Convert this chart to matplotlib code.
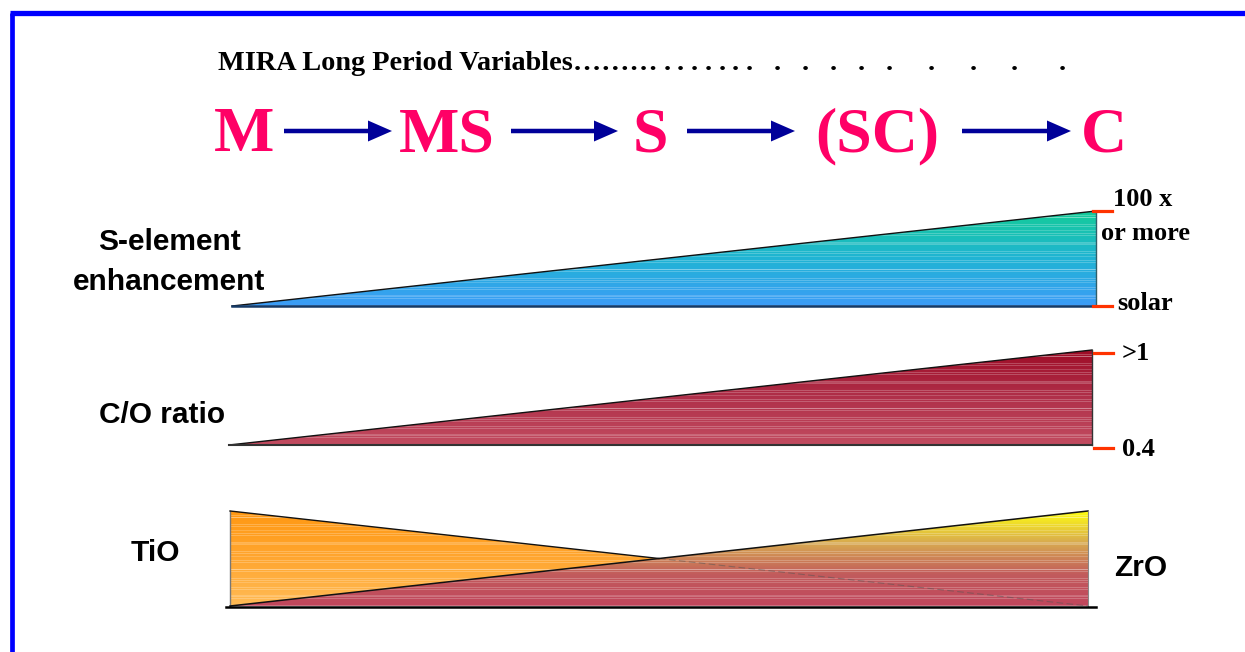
import numpy as np
import matplotlib
matplotlib.use('Agg')
import matplotlib.pyplot as plt
from matplotlib.colors import to_rgb
from matplotlib.patches import Polygon

# spectral sequence of the Mira long period variables
stages = ['M', 'MS', 'S', '(SC)', 'C']

# evolution along the sequence, start (M) to end (C)
progress = [0.0, 1.0]

# s-element enhancement, relative to solar
s_enhancement = [1.0, 100.0]
s_tick_values = [1.0, 100.0]
s_tick_labels = ['solar', '100 x']
s_tick_note = 'or more'

# C/O ratio
co_ratio = [0.4, 1.0]
co_tick_values = [0.4, 1.0]
co_tick_labels = ['0.4', '>1']

# relative band strengths
tio_strength = [1.0, 0.0]
zro_strength = [0.0, 1.0]

SERIF = 'Liberation Serif'
SANS = 'Liberation Sans'
PINK = '#ff0066'
NAVY = '#000099'
TICK_RED = '#ff3300'


# x0, x1, baseline, top (pixel coords of each panel)
S_BOX = (232, 1096, 306, 211)
CO_BOX = (229, 1092, 445, 350)
BAND_BOX = (230, 1088, 606, 511)


def to_px(box, fx, fy):
    x0, x1, base, top = box
    fx = np.asarray(fx, dtype=float)
    fy = np.asarray(fy, dtype=float)
    return x0 + fx * (x1 - x0), base - fy * (base - top)


def gradient_fill(ax, verts, box, stops, zorder):
    x0, x1, base, top = box
    n = int(base - top) * 2
    t = np.linspace(0, 1, n)
    pos = np.linspace(0, 1, len(stops))
    rgb = np.array([to_rgb(c) for c in stops])
    img = np.stack([np.interp(t, pos, rgb[:, k]) for k in range(3)], axis=-1)
    # pale horizontal streaks, like the old clip-art fill
    rows = np.arange(n)
    streak = ((rows * 7) % 9 < 2) * 0.22 + ((rows * 5) % 13 == 0) * 0.18
    img = img + (1 - img) * streak[:, None]
    im = ax.imshow(img[:, None, :], extent=(x0, x1, base, top), aspect='auto',
                   origin='upper', interpolation='nearest', zorder=zorder)
    clip = Polygon(verts, closed=True, facecolor='none', edgecolor='none',
                   transform=ax.transData)
    ax.add_patch(clip)
    im.set_clip_path(clip)


def ramp(box, values, vmin, vmax, log=False):
    # triangle between the baseline and the value line
    if log:
        fy = (np.log10(values) - np.log10(vmin)) / (np.log10(vmax) - np.log10(vmin))
    else:
        fy = (np.asarray(values) - vmin) / (vmax - vmin)
    xs, ys = to_px(box, progress, fy)
    _, _, base, _ = box
    verts = [(xs[0], base), (xs[0], ys[0]), (xs[1], ys[1]), (xs[1], base)]
    return xs, ys, verts


fig = plt.figure(figsize=(12.45, 6.52), dpi=100)
ax = fig.add_axes([0, 0, 1, 1])

# blue frame (left and top only)
ax.plot([12, 12], [12.5, 652], color='#0000ff', lw=3.4, solid_capstyle='butt')
ax.plot([10, 1245], [12.5, 12.5], color='#0000ff', lw=3.8, solid_capstyle='butt')

# header
ax.text(218, 70, 'MIRA Long Period Variables\u2026\u2026\u2026', fontsize=20.3,
        fontweight='bold', family=SERIF, va='baseline', ha='left')
for dx in [667, 680, 694, 708, 722, 735, 749, 777, 805, 833, 861, 889, 931, 973, 1014, 1062]:
    ax.text(dx, 70, '.', fontsize=20.3, fontweight='bold', family=SERIF,
            va='baseline', ha='center')

stage_x = [244, 447, 650, 877, 1104]
arrow_x = [(284, 392), (511, 618), (687, 795), (962, 1071)]
for name, sx in zip(stages, stage_x):
    ax.text(sx, 151, name, fontsize=46, fontweight='bold', family=SERIF,
            color=PINK, ha='center', va='baseline')
for a, b in arrow_x:
    ax.arrow(a, 131, b - a, 0, width=4.5, head_width=21, head_length=24,
             length_includes_head=True, color=NAVY, lw=0)

# S-element panel
xs, ys, verts = ramp(S_BOX, s_enhancement, s_tick_values[0], s_tick_values[1], log=True)
gradient_fill(ax, verts, S_BOX, ['#14cc98', '#20b4d4', '#3c9cf8'], 2)
ax.plot([xs[0], xs[1]], [ys[0], ys[1]], color='#111111', lw=1.0, zorder=3)
ax.plot([xs[1], xs[1]], [ys[1], S_BOX[2]], color='#2f5f6a', lw=1.0, zorder=3)
ax.plot([xs[0], xs[1]], [S_BOX[2], S_BOX[2]], color='#163a66', lw=1.8, zorder=3)
for v, lab in zip(s_tick_values, s_tick_labels):
    fy = np.log10(v) / np.log10(s_tick_values[-1])
    _, ty = to_px(S_BOX, 1, fy)
    ax.plot([1093, 1112], [ty, ty], color=TICK_RED, lw=2.3, zorder=3)
    if lab == 'solar':
        ax.text(1117, ty - 2, lab, fontsize=19, fontweight='bold', family=SERIF,
                ha='left', va='center')
    else:
        ax.text(1113, ty - 12, lab, fontsize=19, fontweight='bold', family=SERIF,
                ha='left', va='center')
ax.text(1101, 234, s_tick_note, fontsize=19, fontweight='bold', family=SERIF,
        ha='left', va='center')
ax.text(169, 262, 'S-element\nenhancement', fontsize=21.5, fontweight='bold',
        family=SANS, ha='center', va='center', linespacing=1.5)

# C/O panel
xs, ys, verts = ramp(CO_BOX, co_ratio, co_tick_values[0], co_tick_values[1])
gradient_fill(ax, verts, CO_BOX, ['#9e0c26', '#b0304a', '#c24c60'], 2)
ax.plot([xs[0], xs[1]], [ys[0], ys[1]], color='#111111', lw=1.0, zorder=3)
ax.plot([xs[1], xs[1]], [ys[1], CO_BOX[2]], color='#333333', lw=1.0, zorder=3)
ax.plot([xs[0], xs[1]], [CO_BOX[2], CO_BOX[2]], color='#333333', lw=1.5, zorder=3)
for v, lab in zip(co_tick_values, co_tick_labels):
    fy = (v - co_tick_values[0]) / (co_tick_values[1] - co_tick_values[0])
    _, ty = to_px(CO_BOX, 1, fy)
    ax.plot([1094, 1113], [ty + 3, ty + 3], color=TICK_RED, lw=2.3, zorder=3)
    ax.text(1122, ty + 4, lab, fontsize=19, fontweight='bold', family=SERIF,
            ha='left', va='center')
ax.text(162, 415, 'C/O ratio', fontsize=21.5, fontweight='bold', family=SANS,
        ha='center', va='center')

# TiO / ZrO panel
tx, ty, tverts = ramp(BAND_BOX, tio_strength, 0.0, 1.0)
zx, zy, zverts = ramp(BAND_BOX, zro_strength, 0.0, 1.0)
gradient_fill(ax, tverts, BAND_BOX, ['#ff9812', '#ffa630', '#ffbb56'], 2)
gradient_fill(ax, zverts, BAND_BOX, ['#ffff10', '#d8aa50', '#c25c5c', '#c0465c'], 4)
# crossing point of the two bands
k = (ty[0] - zy[0]) / ((ty[0] - zy[0]) - (ty[1] - zy[1]))
cx, cy = tx[0] + k * (tx[1] - tx[0]), ty[0] + k * (ty[1] - ty[0])
ax.plot([tx[0], tx[0]], [ty[0], BAND_BOX[2]], color='#777777', lw=1.0, zorder=5)
ax.plot([tx[0], cx], [ty[0], cy], color='#111111', lw=1.0, zorder=5)
ax.plot([cx, tx[1]], [cy, ty[1]], color='#555555', lw=0.8, alpha=0.5,
        ls=(0, (6, 3)), zorder=5)
ax.plot([zx[0], zx[1]], [zy[0], zy[1]], color='#111111', lw=1.1, zorder=5)
ax.plot([zx[1], zx[1]], [zy[1], BAND_BOX[2]], color='#888888', lw=0.8, zorder=5)
ax.plot([226, 1096], [BAND_BOX[2] + 0.5, BAND_BOX[2] + 0.5], color='#000000',
        lw=1.8, zorder=6)
ax.text(155, 553, 'TiO', fontsize=21.5, fontweight='bold', family=SANS,
        ha='center', va='center')
ax.text(1141, 568, 'ZrO', fontsize=21.5, fontweight='bold', family=SANS,
        ha='center', va='center')

ax.set_xlim(0, 1245)
ax.set_ylim(652, 0)
ax.axis('off')
fig.savefig('out.png', dpi=100)
